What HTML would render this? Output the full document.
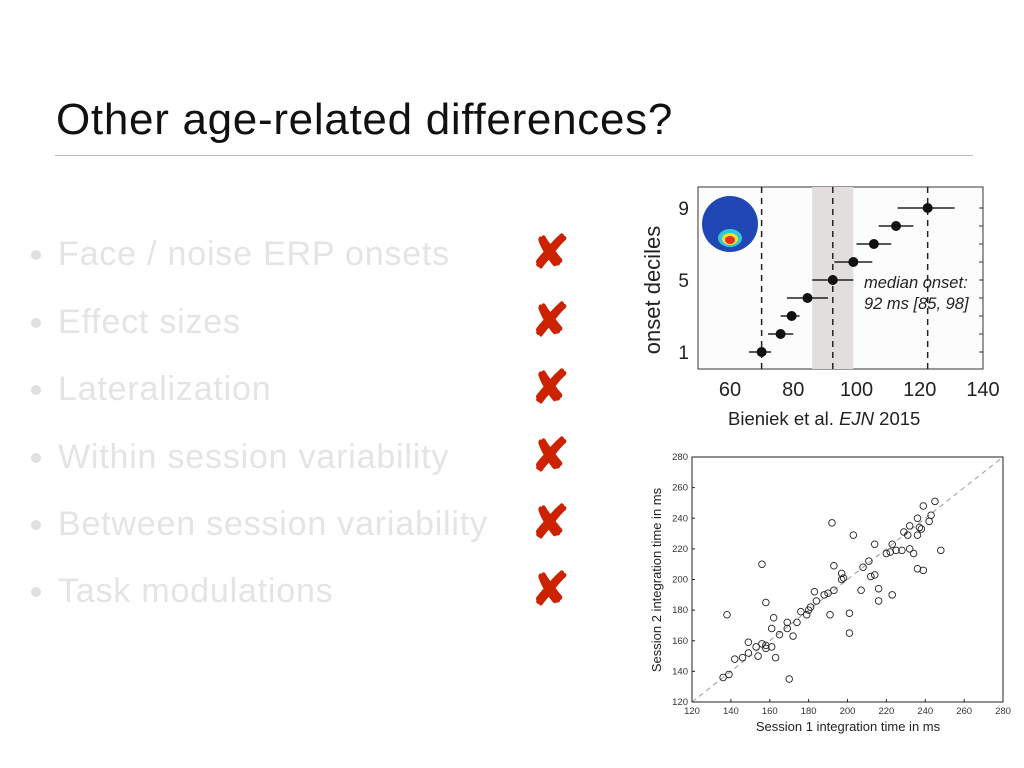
<!DOCTYPE html>
<html><head><meta charset="utf-8"><style>
html,body{margin:0;padding:0;background:#fff}
body{width:1024px;height:768px;position:relative;overflow:hidden;font-family:"Liberation Sans",sans-serif}
.t{position:absolute;left:56px;top:95px;font-size:44px;color:#111;letter-spacing:0.7px}
.rule{position:absolute;left:55px;top:155px;width:918px;height:1px;background:#bbb}
.b{position:absolute;left:58px;font-size:34px;color:#e4e4e4;white-space:nowrap;letter-spacing:0.8px}
.dot{position:absolute;left:31px;width:10px;height:10px;border-radius:50%;background:#e0e0e0}
.x{position:absolute;left:531px;font-size:46px;color:#cc2200;font-weight:bold;line-height:1}
</style></head><body>
<div class="t">Other age-related differences?</div>
<div class="rule"></div>
<div id="bl"></div>
<svg id="top" width="1024" height="768" style="position:absolute;left:0;top:0"></svg>
<script>
const items=["Face / noise ERP onsets","Effect sizes","Lateralization","Within session variability","Between session variability","Task modulations"];
const rowsY=[255,323,390,458,525,592];
const bl=document.getElementById('bl');
items.forEach((s,i)=>{
 const d=document.createElement('div');d.className='b';d.style.top=(rowsY[i]-20)+'px';d.textContent=s;
 
 
 bl.appendChild(d);
 const o=document.createElement('div');o.className='dot';o.style.top=(rowsY[i]-5)+'px';
 
 
 bl.appendChild(o);
 const x=document.createElement('div');x.className='x';x.style.top=(rowsY[i]-26)+'px';x.textContent='✘';
 
 
 bl.appendChild(x);
});

// Onset deciles chart data
const deciles=[1,2,3,4,5,6,7,8,9];
const onsetMed=[70,76,79.5,84.5,92.5,99,105.5,112.5,122.5];
const onsetLo=[66,72,76,78,86,93,100,107,113];
const onsetHi=[73,80,82,91,99,105,111,118,131];
const onsetTicks=[60,80,100,120,140];
const decileTicks=[1,5,9];
const ciBand=[86,99];
const dashLines=[70,92.5,122.5];

// Scatter data
const s1=[136,139,138,142,146,149,149,153,154,156,158,158,156,158,161,161,162,163,165,169,169,170,172,174,176,179,180,181,183,184,188,190,191,192,193,193,197,197,198,201,201,203,207,208,211,212,214,214,216,216,220,222,223,223,225,228,229,231,232,232,234,236,236,236,237,238,239,239,242,243,245,248];
const s2=[136,138,177,148,149,152,159,156,150,158,155,157,210,185,156,168,175,149,164,168,172,135,163,172,179,177,180,182,192,186,190,191,177,237,193,209,204,200,201,178,165,229,193,208,212,202,203,223,194,186,217,218,223,190,219,219,231,229,235,220,217,229,207,240,234,233,248,206,238,242,251,219];
const scTicks=[120,140,160,180,200,220,240,260,280];

const svg=document.getElementById('top');const NS='http://www.w3.org/2000/svg';
function el(t,a,txt){const e=document.createElementNS(NS,t);for(const k in a)e.setAttribute(k,a[k]);if(txt!==undefined)e.textContent=txt;svg.appendChild(e);return e;}

const ax=v=>730+(v-60)*(983-730)/80;
const ay=d=>352-(d-1)*(352-208)/8;
const L=698,R=983,T=187,B=369;
let e=el('rect',{x:L,y:T,width:R-L,height:B-T,fill:'#fcfcfc',stroke:'#333','stroke-width':1});

e=el('rect',{x:ax(ciBand[0]),y:T,width:ax(ciBand[1])-ax(ciBand[0]),height:B-T,fill:'#e2dedd'});

dashLines.forEach(v=>{e=el('line',{x1:ax(v),x2:ax(v),y1:T,y2:B,stroke:'#222','stroke-dasharray':'6,5','stroke-width':1.5});
 });
const g=el('circle',{cx:730,cy:224,r:28,fill:'#2147b5'});

el('ellipse',{cx:730,cy:238,rx:12,ry:9,fill:'#33c6d8'});
el('ellipse',{cx:730,cy:239,rx:8,ry:6,fill:'#f0e030'});
el('ellipse',{cx:730,cy:240,rx:5,ry:4,fill:'#e83020'});
deciles.forEach((d,i)=>{
 e=el('line',{x1:ax(onsetLo[i]),x2:ax(onsetHi[i]),y1:ay(d),y2:ay(d),stroke:'#222','stroke-width':1.5});
 
 e=el('circle',{cx:ax(onsetMed[i]),cy:ay(d),r:5,fill:'#111'});
 
 el('line',{x1:R-4,x2:R,y1:ay(d),y2:ay(d),stroke:'#333'});
});
onsetTicks.forEach(v=>{e=el('text',{x:ax(v),y:396,'font-size':20,'text-anchor':'middle',fill:'#222'},v);
 });
decileTicks.forEach(v=>{e=el('text',{x:689,y:ay(v)+7,'font-size':19,'text-anchor':'end',fill:'#222'},v);
 });
e=el('text',{x:660,y:290,'font-size':22,'text-anchor':'middle',fill:'#222',transform:'rotate(-90 660 290)'},'onset deciles');

e=el('text',{x:864,y:288,'font-size':16.5,'font-style':'italic',fill:'#222'},'median onset:');

e=el('text',{x:864,y:309,'font-size':16.5,'font-style':'italic',fill:'#222'},'92 ms [85, 98]');

e=el('text',{x:728,y:425,'font-size':18.5,fill:'#222'});
e.innerHTML='Bieniek et al. <tspan font-style="italic">EJN</tspan> 2015';


const sx=v=>692+(v-120)*(1003-692)/160;
const sy=v=>702-(v-120)*(702-457)/160;
e=el('rect',{x:sx(120),y:sy(280),width:sx(280)-sx(120),height:sy(120)-sy(280),fill:'#fff',stroke:'#222','stroke-width':1});

e=el('line',{x1:sx(120),y1:sy(120),x2:sx(280),y2:sy(280),stroke:'#999','stroke-dasharray':'5,4'});

scTicks.forEach(v=>{
 e=el('text',{x:sx(v),y:714,'font-size':9.5,'text-anchor':'middle',fill:'#333'},v);
 
 e=el('text',{x:688,y:sy(v)+3,'font-size':9.5,'text-anchor':'end',fill:'#333'},v);
 
 el('line',{x1:sx(v),x2:sx(v),y1:sy(120),y2:sy(120)-3,stroke:'#222'});
 el('line',{x1:sx(120),x2:sx(120)+3,y1:sy(v),y2:sy(v),stroke:'#222'});
});
s1.forEach((v,i)=>{e=el('circle',{cx:sx(v),cy:sy(s2[i]),r:3.3,fill:'none',stroke:'#222','stroke-width':0.9});
 });
e=el('text',{x:848,y:731,'font-size':13,'text-anchor':'middle',fill:'#222'},'Session 1 integration time in ms');

e=el('text',{x:661,y:580,'font-size':13,'text-anchor':'middle',fill:'#222',transform:'rotate(-90 661 580)'},'Session 2 integration time in ms');

</script>
</body></html>
